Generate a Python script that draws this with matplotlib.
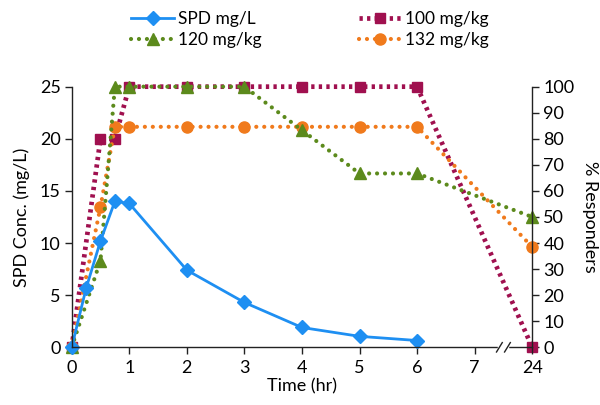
import matplotlib
matplotlib.use("Agg")
import matplotlib.pyplot as plt
from matplotlib.lines import Line2D

plt.rcParams['font.family'] = ['Lato', 'DejaVu Sans']

# ---- data ----
spd_time = [0, 0.25, 0.5, 0.75, 1, 2, 3, 4, 5, 6]
spd_conc = [0, 5.65, 10.2, 14.0, 13.8, 7.4, 4.3, 1.9, 1.05, 0.65]

resp_time = [0, 0.5, 0.75, 1, 2, 3, 4, 5, 6, 24]
resp_100 = [0, 80, 80, 100, 100, 100, 100, 100, 100, 0]
resp_120 = [0, 33.3, 100, 100, 100, 100, 83.3, 66.7, 66.7, 50]
resp_132 = [0, 53.8, 84.6, 84.6, 84.6, 84.6, 84.6, 84.6, 84.6, 38.5]

tick_times = [0, 1, 2, 3, 4, 5, 6, 7, 24]
tick_labels = ['0', '1', '2', '3', '4', '5', '6', '7', '24']


def xpos(t):
    # broken time axis: 24 h is drawn one slot after 7 h
    return t if t <= 7 else 8


c_spd = '#1E8FF2'
c_100 = '#A0104F'
c_120 = '#5C8A1C'
c_132 = '#F07A1C'

fig = plt.figure(figsize=(6, 4.05), dpi=100)
ax = fig.add_axes([0.1195, 0.1425, 0.7675, 0.6435])
ax2 = ax.twinx()

ax.set_zorder(ax2.get_zorder() + 1)
ax.patch.set_visible(False)

ax2.plot([xpos(t) for t in resp_time], resp_100, color=c_100, lw=3.4,
         ls=(0, (0.7, 0.9)), marker='s', ms=7, clip_on=False, label='100 mg/kg')
ax2.plot([xpos(t) for t in resp_time], resp_132, color=c_132, lw=3.0,
         ls=(0, (0.01, 1.9)), dash_capstyle='round', marker='o', ms=8,
         clip_on=False, label='132 mg/kg')
ax2.plot([xpos(t) for t in resp_time], resp_120, color=c_120, lw=3.0,
         ls=(0, (0.01, 1.9)), dash_capstyle='round', marker='^', ms=8,
         clip_on=False, label='120 mg/kg')
ax.plot([xpos(t) for t in spd_time], spd_conc, color=c_spd, lw=2,
        marker='D', ms=7, clip_on=False, label='SPD mg/L')

ax.set_xlim(0, 8)
ax.set_ylim(0, 25)
ax2.set_ylim(0, 100)
ax.set_yticks(range(0, 26, 5))
ax2.set_yticks(range(0, 101, 10))
ax.set_xticks([xpos(t) for t in tick_times])
ax.set_xticklabels(tick_labels)

for a in (ax, ax2):
    a.spines['top'].set_visible(False)
    for s in a.spines.values():
        s.set_color('#222222')
        s.set_linewidth(1)
ax.spines['right'].set_visible(False)
ax2.spines['left'].set_visible(False)
ax2.spines['bottom'].set_visible(False)

ax.tick_params(axis='both', labelsize=13, length=5, width=1, color='#222222', pad=3)
ax.tick_params(axis='x', pad=4)
ax2.tick_params(axis='y', labelsize=13, length=5, width=1, color='#222222', pad=3)

ax.set_xlabel('Time (hr)', fontsize=13, labelpad=2)
ax.set_ylabel('SPD Conc. (mg/L)', fontsize=13, labelpad=7)
ax2.set_ylabel('% Responders', fontsize=13, rotation=270, labelpad=17)

# axis break marks at 7.5
ax.plot([7.43, 7.57], [0, 0], color='white', lw=2.5, clip_on=False, zorder=3)
for dx in (-0.07, 0.07):
    ax.plot([7.5 + dx - 0.05, 7.5 + dx + 0.05], [-0.45, 0.45], color='#222222',
            lw=1, clip_on=False, zorder=4)

handles = [
    Line2D([], [], color=c_spd, lw=2, marker='D', ms=7),
    Line2D([], [], color=c_120, lw=3, ls=(0, (0.01, 1.9)), dash_capstyle='round', marker='^', ms=8),
    Line2D([], [], color=c_100, lw=3.4, ls=(0, (0.7, 0.9)), marker='s', ms=7),
    Line2D([], [], color=c_132, lw=3, ls=(0, (0.01, 1.9)), dash_capstyle='round', marker='o', ms=8),
]
labels = ['SPD mg/L', '120 mg/kg', '100 mg/kg', '132 mg/kg']
fig.legend(handles, labels, ncol=2, loc='upper left', bbox_to_anchor=(0.192, 1.012),
           frameon=False, fontsize=12.5, handlelength=2.5, columnspacing=5.6,
           handletextpad=0.2, labelspacing=0.3)

fig.savefig('out.png', dpi=100)
